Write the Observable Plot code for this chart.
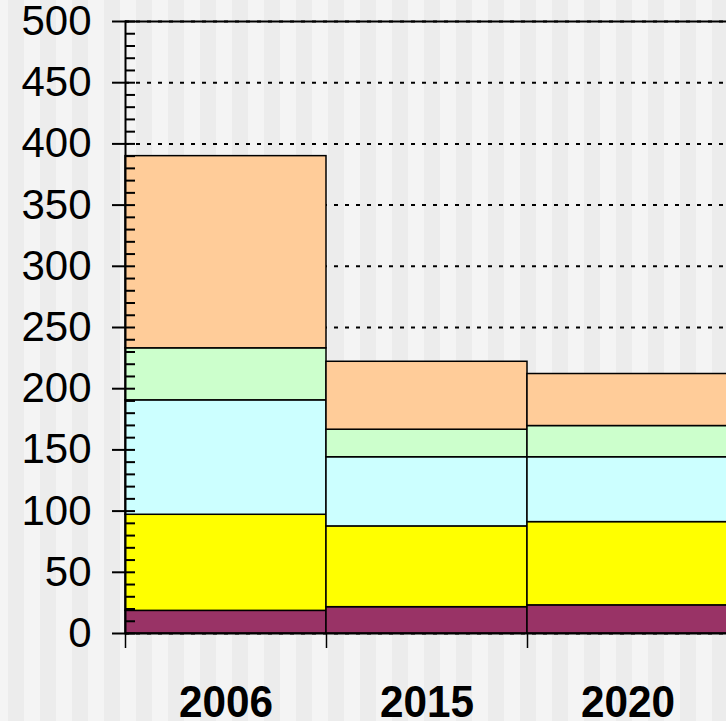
<!DOCTYPE html>
<html><head><meta charset="utf-8">
<script src="https://cdn.jsdelivr.net/npm/d3@7"></script>
<script src="https://cdn.jsdelivr.net/npm/@observablehq/plot@0.6"></script>
<style>
html,body{margin:0;padding:0;}
body{width:726px;height:721px;overflow:hidden;color:#000;
background:repeating-linear-gradient(90deg,#f4f4f4 0px,#f4f4f4 8px,#ececec 8px,#ececec 24px,#f4f4f4 24px,#f4f4f4 32px);}
</style></head><body><div id="chart"></div>
<script>
const years = ["2006", "2015", "2020"];
const series = ["Serie 1", "Serie 2", "Serie 3", "Serie 4", "Serie 5"];
const colors = ["#993366", "#ffff00", "#ccffff", "#ccffcc", "#ffcc99"];
const values2006 = [18.5, 78.5, 93.5, 42.5, 157];
const values2015 = [21.5, 66, 56.5, 22.5, 55.5];
const values2020 = [23, 68, 53, 25.5, 42.5];
const yTicks = [0, 50, 100, 150, 200, 250, 300, 350, 400, 450, 500];
const yMinorTicks = d3.range(0, 501, 10);

const byYear = [values2006, values2015, values2020];
const data = [];
years.forEach((yr, i) => series.forEach((s, j) => data.push({year: yr, series: s, value: byYear[i][j]})));

const chart = Plot.plot({
  width: 726, height: 721,
  marginLeft: 125, marginRight: 0, marginTop: 21, marginBottom: 88,
  style: {background: "transparent", fontFamily: "'Liberation Sans', Arial, sans-serif", color: "#000", overflow: "hidden"},
  x: {domain: years, range: [125, 728], padding: 0, label: null},
  y: {domain: [0, 500], label: null},
  color: {domain: series, range: colors},
  marks: [
    Plot.ruleY(yTicks, {stroke: "#000", strokeWidth: 2, strokeDasharray: "4,7"}),
    Plot.barY(data, {x: "year", y: "value", fill: "series", stroke: "#000", strokeWidth: 1.5}),
    Plot.ruleY([500], {stroke: "#000", strokeWidth: 2}),
    Plot.ruleY([0], {stroke: "#000", strokeWidth: 2}),
    Plot.tickY(yMinorTicks, {y: d => d, insetRight: 591, stroke: "#000", strokeWidth: 2}),
    Plot.frame({anchor: "left", stroke: "#000", strokeWidth: 2}),
    Plot.axisY({ticks: yTicks, tickSize: 13, tickPadding: 21, fontSize: 42, strokeWidth: 2, tickFormat: d => String(d), label: null}),
    Plot.axisX({tickSize: 15, dx: -100.5, text: null, strokeWidth: 1.5, label: null}),
    Plot.axisX({tickSize: 0, tickPadding: 52, fontSize: 45, fontWeight: "bold", label: null})
  ]
});
d3.select(chart).selectAll("g[aria-label='x-axis tick label'] text")
  .attr("textLength", 94).attr("lengthAdjust", "spacingAndGlyphs");
document.getElementById("chart").append(chart);
</script></body></html>
